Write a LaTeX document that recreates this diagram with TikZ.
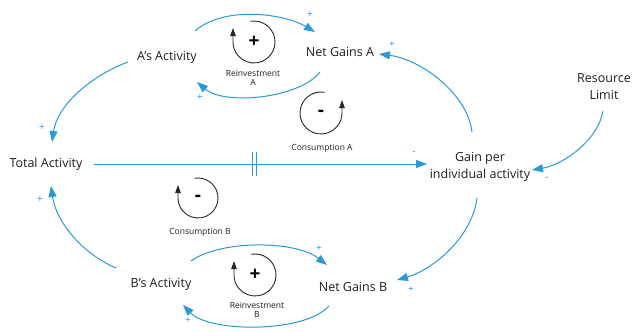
\documentclass[tikz,border=0pt]{standalone}
\usepackage{fontspec}
\setmainfont{Open Sans}
\usetikzlibrary{arrows.meta,calc}
\definecolor{cblue}{HTML}{2A9AD5}
\definecolor{ctext}{HTML}{1E1E1E}
\begin{document}
\begin{tikzpicture}[x=1pt,y=-1pt,
  var/.style={text=ctext,font=\fontsize{12.5}{17}\selectfont,align=center,inner sep=0pt},
  link/.style={draw=cblue,line width=1pt,-{Triangle[length=11pt,width=8pt]}},
  pol/.style={text=cblue,font=\fontsize{10}{10}\selectfont,inner sep=0pt},
  loopc/.style={draw=black!85,line width=0.9pt,-{Triangle[length=8pt,width=5.5pt]}},
  looplab/.style={text=ctext,font=\fontsize{8.5}{9.5}\selectfont,align=center,inner sep=0pt},
  loopsym/.style={text=black,inner sep=0pt,font=\fontsize{19}{19}\selectfont\bfseries}
]
\useasboundingbox (0,0) rectangle (633,332);

% variables
\node[var] (aa) at (167,57) {A’s Activity};
\node[var] (nga) at (340,52) {Net Gains A};
\node[var] (tot) at (46,164) {Total Activity};
\node[var] (gain) at (480,167) {Gain per\\individual activity};
\node[var] (res) at (604,87) {Resource\\Limit};
\node[var] (ba) at (161,284) {B’s Activity};
\node[var] (ngb) at (353,287) {Net Gains B};

% links
\draw[link] ([shift={(28,-26)}]aa.center) .. controls (225,5) and (285,14) .. ([shift={(-25,-20)}]nga.center);
\draw[link] ([shift={(-20,20)}]nga.center) .. controls (300,98) and (225,106) .. ([shift={(30,25)}]aa.center);
\draw[link] ([shift={(-39,5)}]aa.center) .. controls (88,77) and (57,107) .. ([shift={(6,-22)}]tot.center);
\draw[link] ([shift={(-8,-35)}]gain.center) .. controls (467,92) and (419,59) .. ([shift={(39,2)}]nga.center);
\draw[link] ([shift={(48,0)}]tot.center) -- ([shift={(-53,-3)}]gain.center);
\draw[cblue,line width=1pt] (252,152) -- (252,176) (256,152) -- (256,176);
\draw[link] ([shift={(-1,24)}]res.center) .. controls (598,141) and (562,165) .. ([shift={(52,3)}]gain.center);
\draw[link] ([shift={(-3,31)}]gain.center) .. controls (472,238) and (432,270) .. ([shift={(44,-7)}]ngb.center);
\draw[link] ([shift={(-45,-16)}]ba.center) .. controls (81,253) and (56,221) .. ([shift={(5,22)}]tot.center);
\draw[link] ([shift={(30,-23)}]ba.center) .. controls (220,240) and (295,240) .. ([shift={(-26,-22)}]ngb.center);
\draw[link] ([shift={(-24,19)}]ngb.center) .. controls (305,333) and (210,333) .. ([shift={(22,21)}]ba.center);

% polarities
\node[pol] (p1) at (310,15) {+};
\node[pol] (p2) at (200,98) {+};
\node[pol] (p3) at (42,128) {+};
\node[pol] (p4) at (392,45) {+};
\node[pol] (p5) at (414,153) {-};
\node[pol] (p6) at (547,179) {-};
\node[pol] (p7) at (411,290) {+};
\node[pol] (p8) at (40,200) {+};
\node[pol] (p9) at (319,249) {+};
\node[pol] (p10) at (188,321) {+};

% loops
\coordinate (lra) at (254,42);
\draw[loopc] ([shift={(-100:21)}]lra) arc[start angle=-100,end angle=180,radius=21] -- ++(0,-14);
\node[loopsym] (sra) at (lra) {+};
\node[looplab] (tra) at (253,78) {Reinvestment\\A};

\coordinate (lca) at (321,113);
\draw[loopc] ([shift={(-80:21)}]lca) arc[start angle=-80,end angle=-360,radius=21] -- ++(0,-13);
\node[loopsym] (sca) at (lca) {-};
\node[looplab] (tca) at (322,148) {Consumption A};

\coordinate (lcb) at (198,198);
\draw[loopc] ([shift={(-100:20)}]lcb) arc[start angle=-100,end angle=180,radius=20] -- ++(0,-13);
\node[loopsym] (scb) at (lcb) {-};
\node[looplab] (tcb) at (200,232) {Consumption B};

\coordinate (lrb) at (255,275);
\draw[loopc] ([shift={(-100:21)}]lrb) arc[start angle=-100,end angle=180,radius=21] -- ++(0,-14);
\node[loopsym] (srb) at (lrb) {+};
\node[looplab] (trb) at (257,310) {Reinvestment\\B};
\end{tikzpicture}
\end{document}
